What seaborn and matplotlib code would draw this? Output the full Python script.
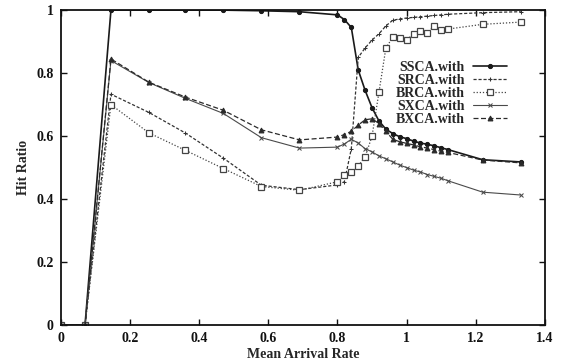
import matplotlib
matplotlib.use("Agg")
import matplotlib.pyplot as plt
import seaborn as sns
import pandas as pd

# Mean arrival rate (shared x grid)
rate = [0.0, 0.07, 0.145, 0.255, 0.36, 0.47, 0.58, 0.69,
        0.80, 0.82, 0.84, 0.86, 0.88, 0.90, 0.92, 0.94, 0.96, 0.98,
        1.00, 1.02, 1.04, 1.06, 1.08, 1.10, 1.12, 1.22, 1.33]

ssca = [0, 0, 1.0, 1.0, 1.0, 1.0, 0.998, 0.995,
        0.985, 0.97, 0.945, 0.81, 0.745, 0.69, 0.648, 0.622, 0.608, 0.598,
        0.592, 0.584, 0.578, 0.574, 0.569, 0.563, 0.557, 0.525, 0.518]
srca = [0, 0, 0.733, 0.675, 0.61, 0.53, 0.444, 0.43,
        0.445, 0.455, 0.56, 0.85, 0.88, 0.905, 0.925, 0.95, 0.968, 0.972,
        0.975, 0.977, 0.979, 0.981, 0.983, 0.985, 0.987, 0.992, 0.995]
brca = [0, 0, 0.70, 0.61, 0.555, 0.497, 0.44, 0.428,
        0.455, 0.475, 0.485, 0.505, 0.535, 0.60, 0.74, 0.88, 0.914, 0.912,
        0.905, 0.925, 0.934, 0.928, 0.95, 0.937, 0.94, 0.955, 0.962]
sxca = [0, 0, 0.84, 0.77, 0.72, 0.672, 0.595, 0.562,
        0.565, 0.575, 0.59, 0.578, 0.56, 0.55, 0.537, 0.528, 0.518, 0.508,
        0.50, 0.492, 0.486, 0.478, 0.472, 0.466, 0.458, 0.422, 0.413]
bxca = [0, 0, 0.845, 0.771, 0.724, 0.682, 0.62, 0.588,
        0.597, 0.605, 0.615, 0.635, 0.652, 0.655, 0.64, 0.615, 0.59, 0.582,
        0.577, 0.572, 0.566, 0.562, 0.557, 0.552, 0.548, 0.524, 0.515]

names = ["SSCA.with", "SRCA.with", "BRCA.with", "SXCA.with", "BXCA.with"]
series = [ssca, srca, brca, sxca, bxca]

x_ticks = [0, 0.2, 0.4, 0.6, 0.8, 1, 1.2, 1.4]
x_tick_labels = ["0", "0.2", "0.4", "0.6", "0.8", "1", "1.2", "1.4"]
y_ticks = [0, 0.2, 0.4, 0.6, 0.8, 1]
y_tick_labels = ["0", "0.2", "0.4", "0.6", "0.8", "1"]

df = pd.concat(
    [pd.DataFrame({"rate": rate, "hit": vals, "scheme": n}) for n, vals in zip(names, series)],
    ignore_index=True,
)

sns.set_theme(style="ticks")
plt.rcParams["font.family"] = ["Liberation Serif", "DejaVu Serif"]
plt.rcParams["font.weight"] = "bold"

styles = {
    "SSCA.with": dict(color="#1a1a1a", linestyle="-", marker="o", markersize=3,
                      linewidth=1.2, markerfacecolor="#1a1a1a"),
    "SRCA.with": dict(color="#333333", linestyle=(0, (2.5, 1.5)), marker="+", markersize=3.5,
                      linewidth=0.9),
    "BRCA.with": dict(color="#444444", linestyle=(0, (1, 1.5)), marker="s", markersize=4,
                      linewidth=0.9, markerfacecolor="white", markeredgewidth=0.9),
    "SXCA.with": dict(color="#4a4a4a", linestyle="-", marker="x", markersize=3.5,
                      linewidth=0.8),
    "BXCA.with": dict(color="#2a2a2a", linestyle=(0, (4, 2)), marker="^", markersize=3.5,
                      linewidth=0.9),
}

fig = plt.figure(figsize=(5.63, 3.62), dpi=100)
ax = fig.add_axes([0.108, 0.102, 0.86, 0.870])

for n in names:
    sub = df[df["scheme"] == n]
    st = styles[n]
    sns.lineplot(data=sub, x="rate", y="hit", ax=ax, label=n, estimator=None,
                 sort=False, markeredgecolor=st["color"], **st)

ax.set_xlim(0, 1.4)
ax.set_ylim(0, 1)
ax.set_xticks(x_ticks)
ax.set_xticklabels(x_tick_labels)
ax.set_yticks(y_ticks)
ax.set_yticklabels(y_tick_labels)
ax.tick_params(direction="in", length=4, width=1, top=True, right=True,
               labelsize=10, pad=5, colors="#111111")
for side in ax.spines.values():
    side.set_linewidth(1.3)
    side.set_color("#111111")

ax.set_xlabel("Mean Arrival Rate", fontsize=10, fontweight="bold", labelpad=2)
ax.set_ylabel("Hit Ratio", fontsize=10, fontweight="bold", labelpad=5)

leg = ax.legend(loc="upper right", bbox_to_anchor=(0.935, 0.86), frameon=False,
                markerfirst=False, fontsize=10, handlelength=2.4, labelspacing=0.0,
                handletextpad=0.6, borderpad=0.0)
for t in leg.get_texts():
    t.set_fontweight("bold")

fig.savefig("out.png", dpi=100, facecolor="white")
